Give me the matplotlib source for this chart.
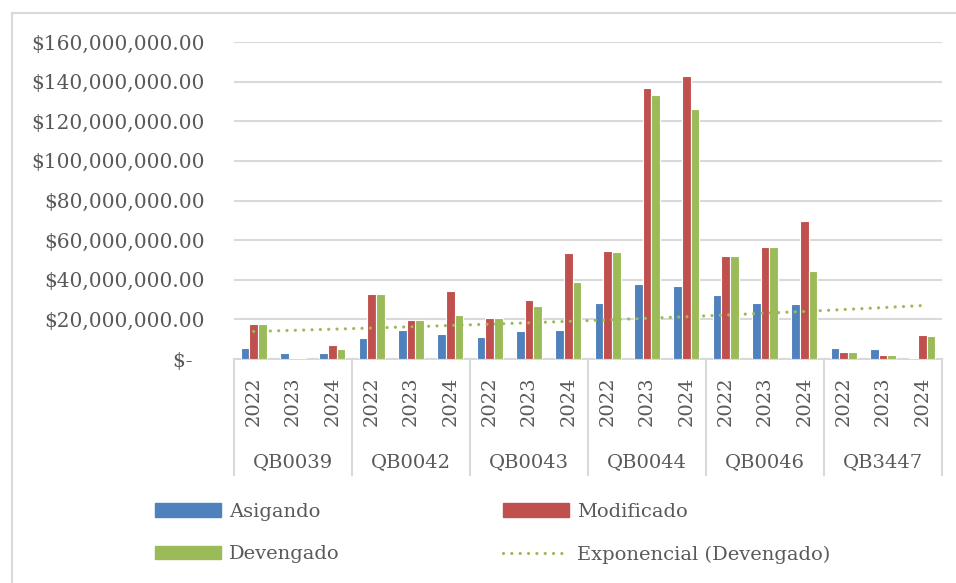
import numpy as np
import matplotlib
matplotlib.use('Agg')
import matplotlib.pyplot as plt
from matplotlib.patches import Rectangle
from matplotlib.lines import Line2D

# data (millions of pesos)
groups = ['QB0039', 'QB0042', 'QB0043', 'QB0044', 'QB0046', 'QB3447']
years = ['2022', '2023', '2024']
asignado = [5.4, 2.9, 2.9, 10.4, 14.8, 12.5, 11.1, 14.3, 14.8,
            28.1, 37.7, 36.9, 32.3, 28.4, 27.8, 5.6, 5.1, 0.7]
modificado = [17.7, 0.6, 7.1, 33.0, 19.5, 34.5, 20.7, 29.8, 53.5,
              54.5, 136.7, 142.6, 52.2, 56.6, 69.9, 3.4, 1.9, 12.1]
devengado = [17.7, 0.6, 5.1, 33.0, 19.5, 22.4, 20.7, 26.6, 38.9,
             54.2, 133.0, 126.1, 52.2, 56.4, 44.3, 3.4, 1.9, 11.6]

plt.rcParams['font.family'] = ['DejaVu Serif']
txt = '#595959'
grid = '#D9D9D9'
c_blue, c_red, c_green = '#4F81BD', '#C0504D', '#9BBB59'
dots = (0, (0.01, 2.6))

W, H = 956, 583
fig = plt.figure(figsize=(W / 100, H / 100), dpi=100)
ax = fig.add_axes([234 / W, 1 - 359 / H, (942 - 234) / W, (359 - 42) / H])

n = len(asignado)
x = np.arange(n)
scale = 1e6
bw = 0.222
ax.bar(x - bw, np.array(asignado) * scale, bw, color=c_blue, edgecolor='white', lw=0.8, zorder=3)
ax.bar(x, np.array(modificado) * scale, bw, color=c_red, edgecolor='white', lw=0.8, zorder=3)
ax.bar(x + bw, np.array(devengado) * scale, bw, color=c_green, edgecolor='white', lw=0.8, zorder=3)

# exponential trendline on Devengado (Excel style: ln(y) = a + b*x)
xi = x + 1
b, a = np.polyfit(xi, np.log(np.array(devengado) * scale), 1)
trend = np.exp(a + b * xi)
ax.plot(x, trend, color=c_green, lw=2.3, linestyle=dots, dash_capstyle='round', zorder=4)

ax.set_xlim(-0.5, n - 0.5)
ax.set_ylim(0, 160e6)
ax.set_yticks(np.arange(0, 161e6, 20e6))
ax.set_yticklabels(['$-  '] + ['${:,.2f}'.format(v) for v in np.arange(20e6, 161e6, 20e6)])
ax.tick_params(axis='y', length=0, pad=21, labelsize=14.5, labelcolor=txt)
ax.set_xticks([])
ax.yaxis.grid(True, color=grid, lw=1.5, zorder=0)
for s in ['top', 'right', 'left']:
    ax.spines[s].set_visible(False)
ax.spines['bottom'].set_color(grid)
ax.spines['bottom'].set_linewidth(1.5)

# two level category axis
tr = ax.get_xaxis_transform()
ax_h = 359 - 42
for i in range(n):
    ax.text(x[i], -(401 - 359) / ax_h, years[i % 3], rotation=90, ha='center', va='center',
            transform=tr, fontsize=14, color=txt, clip_on=False)
for g, name in enumerate(groups):
    ax.text(g * 3 + 1, -(462 - 359) / ax_h, name, ha='center', va='center',
            transform=tr, fontsize=14, color=txt, clip_on=False)
for g in range(len(groups) + 1):
    ax.plot([g * 3 - 0.5, g * 3 - 0.5], [0, -(475 - 359) / ax_h], transform=tr,
            color=grid, lw=1.5, clip_on=False)

# legend
handles = [Rectangle((0, 0), 1, 1, color=c_blue), Rectangle((0, 0), 1, 1, color=c_red),
           Rectangle((0, 0), 1, 1, color=c_green),
           Line2D([], [], color=c_green, lw=2.3, linestyle=dots, dash_capstyle='round')]
labels = ['Asigando', 'Modificado', 'Devengado', 'Exponencial (Devengado)']
order = [0, 2, 1, 3]
leg = fig.legend([handles[i] for i in order], [labels[i] for i in order], ncol=2,
                 loc='upper left', bbox_to_anchor=(155 / W, 1 - 503 / H), frameon=False,
                 fontsize=14, handlelength=3.4, handletextpad=0.4, columnspacing=8.4,
                 labelspacing=1.25, borderpad=0, borderaxespad=0)
for t in leg.get_texts():
    t.set_color(txt)

# chart border
fig.patches.append(Rectangle((11.5 / W, -0.05), 1.1, 1.05 - 13 / H, transform=fig.transFigure,
                             fill=False, edgecolor=grid, lw=1.5))

fig.savefig('out.png', dpi=100)
